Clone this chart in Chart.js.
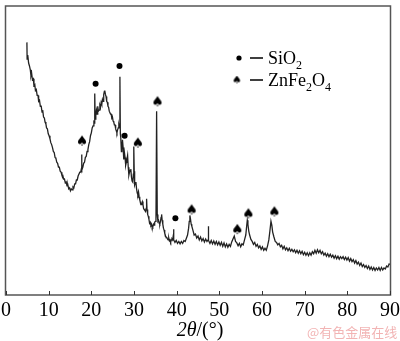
<!DOCTYPE html>
<html>
<head>
<meta charset="utf-8">
<script src="https://cdn.jsdelivr.net/npm/chart.js@4.4.1/dist/chart.umd.min.js"></script>
<style>
  html, body { margin: 0; padding: 0; background: #fff; }
  #wrap { position: relative; width: 400px; height: 341px; }
</style>
</head>
<body>
<div id="wrap"><canvas id="xrdChart"></canvas></div>
<script>
// XRD scan: [2theta (deg), intensity (a.u.)]
const scanPoints = [
  [4.9,2570],[4.95,2400],[5.1,2440],[5.3,2360],[5.5,2330],[5.7,2290],[5.85,2230],[6.0,2260],
  [6.2,2190],[6.4,2200],[6.55,2130],[6.75,2140],[6.9,2080],[7.1,2090],[7.3,2030],[7.5,2030],
  [7.65,1970],[7.85,1980],[8.05,1920],[8.25,1920],[8.45,1860],[8.6,1880],[8.8,1810],[9.0,1800],
  [9.15,1760],[9.35,1740],[9.5,1700],[9.7,1690],[9.9,1640],[10.1,1620],[10.3,1590],[10.5,1550],
  [10.7,1530],[10.9,1500],[11.1,1460],[11.3,1450],[11.5,1400],[11.7,1390],[11.9,1350],[12.1,1340],
  [12.3,1300],[12.5,1300],[12.7,1260],[12.9,1250],[13.1,1220],[13.3,1220],[13.5,1180],[13.7,1180],
  [13.9,1140],[14.1,1150],[14.3,1110],[14.5,1120],[14.7,1080],[14.9,1090],[15.1,1060],[15.3,1080],
  [15.5,1070],[15.7,1100],[15.9,1090],[16.1,1130],[16.3,1130],[16.5,1170],[16.7,1170],[16.9,1210],
  [17.1,1210],[17.3,1250],[17.5,1250],[17.65,1280],[17.72,1430],[17.8,1270],[18.0,1300],[18.2,1340],
  [18.4,1350],[18.6,1400],[18.8,1410],[19.0,1460],[19.2,1480],[19.4,1530],[19.6,1560],[19.8,1620],
  [20.0,1650],[20.2,1700],[20.4,1720],[20.6,1760],[20.75,1750],[20.8,2050],[20.9,1790],
  [21.05,1830],[21.2,1880],[21.35,1840],[21.5,1920],[21.65,1870],[21.8,1880],[22.0,1930],[22.15,1910],
  [22.3,1960],[22.45,1940],[22.6,1990],[22.75,1970],[22.9,2040],[23.05,2070],[23.15,2080],[23.3,2040],
  [23.45,2020],[23.6,1970],[23.75,1960],[23.9,1920],[24.05,1910],[24.2,1870],[24.35,1870],[24.5,1840],
  [24.65,1840],[24.8,1800],[24.95,1810],[25.1,1770],[25.25,1760],[25.4,1730],[25.55,1730],[25.7,1690],
  [25.85,1670],[26.0,1650],[26.15,1680],[26.3,1700],[26.45,1730],[26.6,1700],[26.7,2220],[26.8,1640],
  [26.9,1600],[27.05,1460],[27.15,1480],[27.3,1580],[27.45,1500],[27.6,1380],[27.75,1450],[27.9,1400],
  [28.05,1320],[28.2,1350],[28.35,1380],[28.5,1420],[28.65,1300],[28.8,1220],[28.95,1250],[29.1,1270],
  [29.25,1280],[29.4,1200],[29.55,1160],[29.7,1150],[29.85,1230],[29.95,1510],[30.05,1260],[30.15,1120],
  [30.3,1140],[30.45,1150],[30.6,1080],[30.75,1040],[30.9,1020],[31.05,1050],[31.2,1000],[31.35,970],
  [31.5,940],[31.65,920],[31.8,930],[31.95,950],[32.1,920],[32.25,880],[32.4,870],[32.55,860],
  [32.7,850],[32.85,880],[32.95,980],[33.05,870],[33.2,820],[33.35,800],[33.5,770],[33.65,730],
  [33.8,740],[33.95,710],[34.1,720],[34.25,700],[34.4,690],[34.55,720],[34.7,710],[34.85,740],
  [35.0,750],[35.15,780],[35.3,1870],[35.45,820],[35.6,750],[35.75,760],[35.9,730],[36.05,720],
  [36.2,750],[36.35,790],[36.47,820],[36.6,760],[36.75,720],[36.9,680],[37.05,660],[37.2,630],
  [37.4,600],[37.55,590],[37.7,580],[37.85,570],[38.0,560],[38.15,580],[38.3,550],[38.45,560],
  [38.6,540],[38.75,560],[38.9,570],[39.05,560],[39.2,600],[39.27,670],
  [39.35,560],[39.6,535],[39.9,555],[40.2,525],[40.5,545],[40.8,520],[41.1,545],[41.4,525],
  [41.7,555],[42.0,545],[42.3,580],[42.55,610],[42.8,680],[42.95,750],[43.1,810],[43.25,770],
  [43.4,720],[43.55,700],[43.8,660],[44.1,610],[44.4,620],[44.7,580],[45.0,600],[45.3,560],
  [45.6,590],[45.9,550],[46.2,575],[46.5,540],[46.8,570],[47.1,545],[47.35,560],[47.42,700],
  [47.5,555],[47.8,525],[48.1,555],[48.4,520],[48.7,550],[49.0,515],[49.3,545],[49.6,510],
  [49.9,540],[50.2,505],[50.5,535],[50.8,495],[51.1,530],[51.4,490],[51.7,520],[52.0,485],
  [52.3,515],[52.6,495],[52.9,540],[53.2,570],[53.5,600],[53.8,545],[54.1,530],[54.4,500],
  [54.7,525],[55.0,490],[55.3,520],[55.6,510],[55.9,560],[56.2,610],[56.4,700],[56.55,760],
  [56.7,720],[56.9,650],[57.1,610],[57.4,565],[57.7,545],[58.0,515],[58.3,535],[58.6,495],
  [58.9,515],[59.2,480],[59.5,500],[59.8,465],[60.1,490],[60.4,455],[60.7,475],[61.0,455],
  [61.3,500],[61.6,560],[61.85,650],[62.1,750],[62.3,710],[62.5,640],[62.8,590],[63.1,545],
  [63.4,535],[63.7,510],[64.0,525],[64.3,490],[64.6,505],[64.9,470],[65.2,495],[65.5,460],
  [65.8,480],[66.1,450],[66.4,475],[66.7,445],[67.0,465],[67.3,440],[67.6,460],[67.9,430],
  [68.2,455],[68.5,425],[68.8,450],[69.1,420],[69.4,445],[69.7,410],[70.0,435],[70.3,405],
  [70.6,430],[70.9,400],[71.2,430],[71.5,405],[71.8,440],[72.1,420],[72.4,455],[72.7,425],
  [73.0,460],[73.3,430],[73.6,455],[73.9,420],[74.2,440],[74.5,405],[74.8,425],[75.1,395],
  [75.4,420],[75.7,390],[76.0,415],[76.3,385],[76.6,405],[76.9,375],[77.2,400],[77.5,370],
  [77.8,395],[78.1,365],[78.4,390],[78.7,370],[79.0,390],[79.3,360],[79.6,385],[79.9,355],
  [80.2,380],[80.5,345],[80.8,370],[81.1,340],[81.4,360],[81.7,325],[82.0,350],[82.3,315],
  [82.6,335],[82.9,300],[83.2,325],[83.5,290],[83.8,310],[84.1,280],[84.4,300],[84.7,270],
  [85.0,295],[85.3,260],[85.6,285],[85.9,255],[86.2,280],[86.5,250],[86.8,275],[87.1,255],
  [87.4,280],[87.7,250],[88.0,280],[88.3,255],[88.6,275],[88.9,265],[89.2,295],[89.5,285],
  [89.8,315],[90.0,310]
];

// Phase marks placed above the peaks: [2theta, height]
const sio2Marks = [[21.0,2150],[26.6,2330],[27.8,1620],[39.7,780]];
const znFe2O4Marks = [[17.8,1570],[30.9,1550],[35.5,1970],[43.5,870],[54.2,670],[56.8,830],[62.9,850]];

const xTicks = [0, 10, 20, 30, 40, 50, 60, 70, 80, 90];

const serif = '"Liberation Serif", "Times New Roman", serif';

// small spade symbol used as point style
function makeSpade(size) {
  const c = document.createElement('canvas');
  c.width = size; c.height = size;
  const g = c.getContext('2d');
  g.fillStyle = '#000';
  g.font = (size + 2) + 'px "DejaVu Sans"';
  g.textAlign = 'center';
  g.textBaseline = 'middle';
  g.fillText('\u2660', size / 2, size / 2 + 1);
  return c;
}
const spadeBig = makeSpade(12);
const spadeSmall = makeSpade(9);

// text with a lowered, smaller subscript part: parts = [[text, isSub], ...]
function drawFormula(ctx, parts, x, y, size) {
  for (const [txt, sub] of parts) {
    ctx.font = (sub ? Math.round(size * 0.65) : size) + 'px ' + serif;
    ctx.fillText(txt, x, sub ? y + size * 0.25 : y);
    x += ctx.measureText(txt).width;
  }
}

const framePlugin = {
  id: 'frame',
  afterDraw(chart) {
    const ctx = chart.ctx;
    const a = chart.chartArea;
    const xs = chart.scales.x;
    ctx.save();

    // box around the plot
    ctx.strokeStyle = '#555';
    ctx.lineWidth = 1.5;
    ctx.strokeRect(a.left - 0.5, a.top, a.right - a.left + 1, a.bottom - a.top);

    // inward tick marks
    ctx.lineWidth = 1;
    ctx.strokeStyle = '#333';
    ctx.beginPath();
    xTicks.forEach(v => {
      const px = Math.round(xs.getPixelForValue(v)) + 0.5;
      ctx.moveTo(px, a.bottom);
      ctx.lineTo(px, a.bottom - 4);
    });
    ctx.stroke();

    // axis title 2θ/(°)
    ctx.fillStyle = '#000';
    ctx.textBaseline = 'alphabetic';
    ctx.textAlign = 'left';
    ctx.font = 'italic 20px ' + serif;
    const w1 = ctx.measureText('2\u03B8').width;
    ctx.font = '20px ' + serif;
    const w2 = ctx.measureText('/(\u00B0)').width;
    let tx = (a.left + a.right) / 2 + 2 - (w1 + w2) / 2;
    ctx.font = 'italic 20px ' + serif;
    ctx.fillText('2\u03B8', tx, 336);
    ctx.font = '20px ' + serif;
    ctx.fillText('/(\u00B0)', tx + w1, 336);

    // legend
    ctx.beginPath();
    ctx.arc(239, 58, 2.6, 0, Math.PI * 2);
    ctx.fill();
    ctx.drawImage(spadeSmall, 237 - 4.5, 80 - 4.5);
    ctx.lineWidth = 1.5;
    ctx.strokeStyle = '#000';
    ctx.beginPath();
    ctx.moveTo(250, 58); ctx.lineTo(263, 58);
    ctx.moveTo(250, 80); ctx.lineTo(263, 80);
    ctx.stroke();
    drawFormula(ctx, [['SiO', false], ['2', true]], 268, 64, 18);
    drawFormula(ctx, [['ZnFe', false], ['2', true], ['O', false], ['4', true]], 268, 86, 18);

    // source mark
    ctx.font = '13px "Noto Sans CJK SC", sans-serif';
    ctx.fillStyle = '#f2b4b4';
    ctx.fillText('@有色金属在线', 307, 337);

    ctx.restore();
  }
};

const ctx = document.getElementById('xrdChart').getContext('2d');

const chart = new Chart(ctx, {
  type: 'line',
  data: {
    datasets: [{
      data: scanPoints.map(p => ({ x: p[0], y: p[1] })),
      borderColor: '#222',
      borderWidth: 1.3,
      pointRadius: 0,
      tension: 0
    }, {
      type: 'scatter',
      data: sio2Marks.map(p => ({ x: p[0], y: p[1] })),
      pointStyle: 'circle',
      pointRadius: 3,
      backgroundColor: '#000',
      borderWidth: 0
    }, {
      type: 'scatter',
      data: znFe2O4Marks.map(p => ({ x: p[0], y: p[1] })),
      pointStyle: spadeBig,
      pointRadius: 5
    }]
  },
  options: {
    responsive: true,
    maintainAspectRatio: false,
    animation: false,
    devicePixelRatio: 1,
    layout: { padding: { left: 5, right: 10, top: 1, bottom: 0 } },
    plugins: {
      legend: { display: false },
      tooltip: { enabled: false }
    },
    scales: {
      x: {
        type: 'linear',
        min: 0,
        max: 90,
        afterBuildTicks: axis => { axis.ticks = xTicks.map(v => ({ value: v })); },
        afterFit: axis => {
          axis.height = 46;
          axis.paddingLeft = 0;
          axis.paddingRight = 0;
        },
        grid: { display: false, drawTicks: false },
        border: { display: false },
        ticks: {
          padding: 4,
          maxRotation: 0,
          color: '#000',
          font: { family: serif, size: 20 }
        }
      },
      y: {
        display: false,
        min: 0,
        max: 2940
      }
    }
  },
  plugins: [framePlugin]
});
</script>
</body>
</html>
